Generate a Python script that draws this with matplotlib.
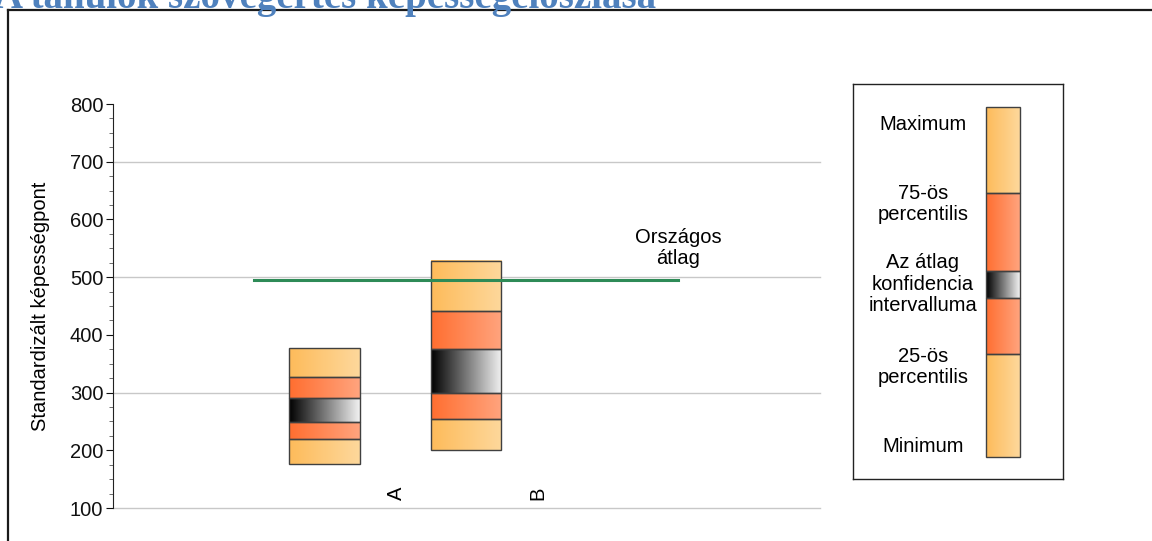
import numpy as np
import matplotlib.pyplot as plt
from matplotlib.patches import Rectangle
from matplotlib.colors import LinearSegmentedColormap

# box data: min, p25, ci low, ci high, p75, max
categories = ["A", "B"]
minimum = [176, 200]
p25 = [220, 254]
ci_low = [249, 299]
ci_high = [291, 375]
p75 = [327, 441]
maximum = [377, 528]
national_mean = 495

light_orange = ["#FDBB5A", "#FED89C"]
dark_orange = ["#FF6E30", "#FFA47E"]
grey_grad = ["#000000", "#F2F2F2"]
edge = "#404040"

plt.rcParams['font.family'] = ['Liberation Sans', 'DejaVu Sans']
FS = 14.5


def grad_rect(ax, x0, x1, y0, y1, colors):
    cmap = LinearSegmentedColormap.from_list("g", colors)
    grad = np.linspace(0, 1, 256).reshape(1, -1)
    ax.imshow(grad, extent=(x0, x1, y0, y1), cmap=cmap, aspect='auto',
              interpolation='bicubic', zorder=3)
    ax.add_patch(Rectangle((x0, y0), x1 - x0, y1 - y0, fill=False,
                           ec=edge, lw=1.0, zorder=4))


def draw_box(ax, x, w, lo, q1, c1, c2, q3, hi):
    grad_rect(ax, x - w / 2, x + w / 2, lo, q1, light_orange)
    grad_rect(ax, x - w / 2, x + w / 2, q1, c1, dark_orange)
    grad_rect(ax, x - w / 2, x + w / 2, c1, c2, grey_grad)
    grad_rect(ax, x - w / 2, x + w / 2, c2, q3, dark_orange)
    grad_rect(ax, x - w / 2, x + w / 2, q3, hi, light_orange)


fig = plt.figure(figsize=(11.52, 5.41), dpi=100)

# outer frame and (cropped, as in the source) title
fig.add_artist(plt.Line2D([8 / 1152, 8 / 1152], [0, 1 - 10 / 541], color="#1a1a1a", lw=1.6,
                          transform=fig.transFigure))
fig.add_artist(plt.Line2D([8 / 1152, 1], [1 - 10 / 541, 1 - 10 / 541], color="#1a1a1a", lw=1.6,
                          transform=fig.transFigure))
fig.text(-0.004, 1 - 8 / 541, "A tanulók szövegértés képességeloszlása", color="#4F81BD",
         fontsize=28, fontweight='bold', family=['Liberation Serif', 'DejaVu Serif'],
         va='baseline', ha='left')

ax = fig.add_axes([113 / 1152, 1 - 508 / 541, 707 / 1152, 404 / 541])
ax.set_xlim(-0.495, 4.502)
ax.set_ylim(100, 800)
for s in ["top", "right", "bottom"]:
    ax.spines[s].set_visible(False)
ax.spines["left"].set_color("#222222")
ax.set_yticks(np.arange(100, 801, 100))
ax.set_yticks(np.arange(100, 801, 25), minor=True)
ax.tick_params(axis='y', which='major', length=5, labelsize=FS, pad=2, colors="#111111")
ax.tick_params(axis='y', which='minor', length=3, colors="#555555")
ax.set_xticks([])
for g in [100, 300, 500, 700]:
    ax.axhline(g, color="#c8c8c8", lw=1.0, zorder=1, clip_on=False)
ax.set_ylabel("Standardizált képességpont", fontsize=FS, labelpad=14)

xs = np.arange(1, len(categories) + 1)
for i, x in enumerate(xs):
    draw_box(ax, x, 0.5, minimum[i], p25[i], ci_low[i], ci_high[i], p75[i], maximum[i])
    ax.text(x + 0.51, 126, categories[i], rotation=90, ha='center', va='center', fontsize=FS)

ax.plot([0.5, 3.5], [national_mean, national_mean], color="#2E8B57", lw=2.2, zorder=5)
ax.text(3.5, 550, "Országos\nátlag", ha='center', va='center', fontsize=FS, linespacing=1.15)

# legend panel
lg = fig.add_axes([853 / 1152, 1 - 479 / 541, 210 / 1152, 395 / 541])
lg.set_xticks([])
lg.set_yticks([])
for s in lg.spines.values():
    s.set_color("#222222")
    s.set_linewidth(1.0)
leg_bounds = [373, 270, 214, 187, 109, 23]
leg_cols = [light_orange, dark_orange, grey_grad, dark_orange, light_orange]
for j in range(5):
    grad_rect(lg, 133, 167, leg_bounds[j], leg_bounds[j + 1], leg_cols[j])
lg.set_xlim(0, 210)
lg.set_ylim(395, 0)
leg_labels = ["Maximum", "75-ös\npercentilis", "Az átlag\nkonfidencia\nintervalluma",
              "25-ös\npercentilis", "Minimum"]
leg_y = [40, 120, 200, 283, 363]
for lab, yy in zip(leg_labels, leg_y):
    lg.text(70, yy, lab, ha='center', va='center', fontsize=FS, linespacing=1.18)

fig.savefig("out.png", dpi=100)
